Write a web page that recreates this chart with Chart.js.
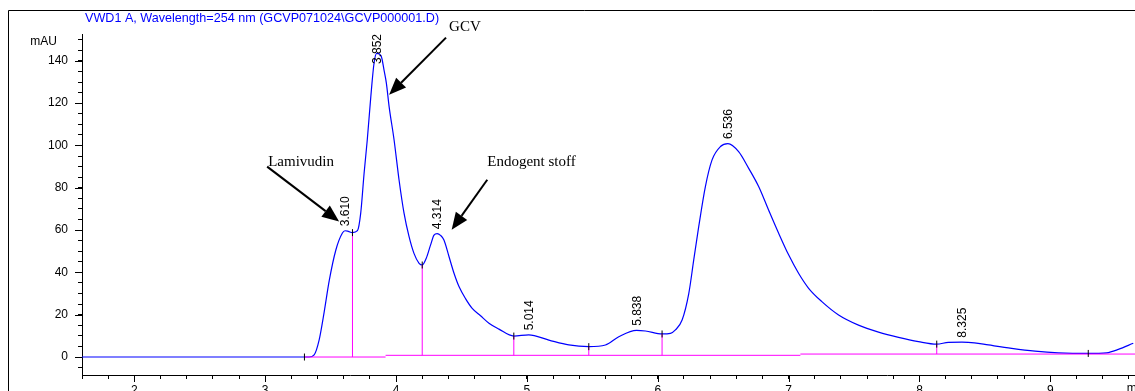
<!DOCTYPE html>
<html>
<head>
<meta charset="utf-8">
<script src="https://cdn.jsdelivr.net/npm/chart.js@4"></script>
<style>
  html, body { margin: 0; padding: 0; background: #fff; overflow: hidden; }
  #chromChart { display: block; }
</style>
</head>
<body>
<canvas id="chromChart" width="1160" height="400"></canvas>
<script>
// Signal trace (time in min, absorbance in mAU)
const times = [1.60, 3.336, 3.374, 3.412, 3.45, 3.489, 3.54, 3.59, 3.61, 3.635, 3.667, 3.705, 3.73, 3.756,
  3.78, 3.807, 3.832, 3.852, 3.885, 3.91, 3.926, 3.947, 3.985, 4.023, 4.061, 4.099, 4.137, 4.176,
  4.20, 4.231, 4.264, 4.29, 4.314, 4.34, 4.366, 4.405, 4.443, 4.481, 4.532, 4.582, 4.646, 4.71,
  4.786, 4.90, 5.014, 5.168, 5.32, 5.473, 5.60, 5.702, 5.838, 5.906, 6.033, 6.097, 6.135, 6.186,
  6.237, 6.275, 6.313, 6.364, 6.415, 6.479, 6.536, 6.618, 6.695, 6.771, 6.847, 6.924, 7.0, 7.076,
  7.153, 7.254, 7.382, 7.534, 7.687, 7.84, 7.992, 8.132, 8.221, 8.325, 8.42, 8.527, 8.705, 8.883,
  9.061, 9.29, 9.43, 9.52, 9.634];
const mAU = [0, 0, 1, 8, 21, 36, 50.6, 58.6, 59.7, 59.4, 58.8, 59.7, 68, 87,
  102.6, 123, 139, 143.5, 142.5, 135, 129.5, 118.4, 102.6, 83.7, 68, 57, 49, 44.3,
  43.5, 46.7, 53, 57.6, 58.3, 57.5, 55.3, 47.4, 39.6, 33.3, 27.5, 23, 19.5, 16,
  13.2, 9.9, 10.5, 8, 5.7, 4.9, 5.7, 9.6, 12.6, 12.3, 10.9, 11.2, 12.8, 17.5,
  30, 45.9, 61.6, 80.6, 93.2, 99.5, 100.9, 97.1, 89.2, 80.6, 69.5, 58.5, 48.3, 39.6,
  32.5, 26.2, 19.9, 15.1, 11.8, 9.3, 7.3, 6.1, 6.9, 7.0, 6.7, 5.7, 4.1, 2.8,
  2.0, 1.7, 2.0, 3.6, 6.5];

// Integration results
const peakTimes = [3.610, 3.852, 4.314, 5.014, 5.838, 6.536, 8.325];
const peakLabels = ['3.610', '3.852', '4.314', '5.014', '5.838', '6.536', '8.325'];
const peakHeights = [59.7, 143.5, 58.3, 10.5, 12.6, 100.9, 7.0];

const boundaryTimes = [3.667, 4.200, 4.900, 5.473, 6.033, 8.132];
const boundaryHeights = [58.8, 43.5, 9.9, 4.9, 10.9, 6.1];

// Drawn baseline pieces: start, end, level
const baselineStarts = [3.30, 3.92, 7.09];
const baselineEnds = [3.92, 7.09, 9.80];
const baselineLevels = [0, 0.8, 1.4];

const integrationStart = [3.30, 0];
const integrationEnd = [9.29, 1.7];

const xTickStep = 0.2;
const yTickStep = 5;

const titleText = 'VWD1 A, Wavelength=254 nm (GCVP071024\\GCVP000001.D)';

// Hand-written notes on the print, in data units
const notes = [
  { text: 'GCV', x: 4.405, y: 153.9, from: [4.382, 151.0], to: [3.947, 124.0] },
  { text: 'Lamivudin', x: 3.023, y: 90.5, from: [3.015, 90.0], to: [3.565, 64.1] },
  { text: 'Endogent stoff', x: 4.697, y: 90.5, from: [4.697, 83.8], to: [4.425, 60.2] }
];

const MAGENTA = '#ff00ff';

function baselineAt(t) {
  for (let i = 0; i < baselineStarts.length; i++) {
    if (t >= baselineStarts[i] && t < baselineEnds[i]) return baselineLevels[i];
  }
  return 0;
}

function segmentDataset(points) {
  return {
    data: points,
    borderColor: MAGENTA,
    backgroundColor: MAGENTA,
    borderWidth: 1,
    pointRadius: 0,
    order: 2
  };
}

const tracePoints = times.map((t, i) => ({ x: t, y: mAU[i] }));

const baselineSets = baselineStarts.map((s, i) => segmentDataset([
  { x: s, y: baselineLevels[i] },
  { x: baselineEnds[i], y: baselineLevels[i] }
]));

const dropSets = boundaryTimes.map((t, i) => segmentDataset([
  { x: t, y: baselineAt(t) },
  { x: t, y: boundaryHeights[i] }
]));

const markerPoints = [{ x: integrationStart[0], y: integrationStart[1] }]
  .concat(boundaryTimes.map((t, i) => ({ x: t, y: boundaryHeights[i] })))
  .concat([{ x: integrationEnd[0], y: integrationEnd[1] }]);

const labelFont = '12px "Liberation Sans", Arial, sans-serif';

const framePlugin = {
  id: 'frame',
  beforeDraw(chart) {
    const ctx = chart.ctx;
    ctx.save();
    ctx.fillStyle = '#fff';
    ctx.fillRect(0, 0, chart.width, chart.height);
    ctx.strokeStyle = '#000';
    ctx.lineWidth = 1;
    ctx.beginPath();
    ctx.moveTo(8.5, chart.height);
    ctx.lineTo(8.5, 10.5);
    ctx.lineTo(chart.width, 10.5);
    ctx.stroke();
    ctx.restore();
  }
};

function drawArrow(ctx, x1, y1, x2, y2) {
  const ang = Math.atan2(y2 - y1, x2 - x1);
  const len = 17, half = 7;
  const bx = x2 - len * Math.cos(ang), by = y2 - len * Math.sin(ang);
  ctx.beginPath();
  ctx.moveTo(x1, y1);
  ctx.lineTo(bx, by);
  ctx.stroke();
  ctx.beginPath();
  ctx.moveTo(x2, y2);
  ctx.lineTo(bx + half * Math.sin(ang), by - half * Math.cos(ang));
  ctx.lineTo(bx - half * Math.sin(ang), by + half * Math.cos(ang));
  ctx.closePath();
  ctx.fill();
}

const overlayPlugin = {
  id: 'overlay',
  afterDraw(chart) {
    const ctx = chart.ctx;
    const xs = chart.scales.x, ys = chart.scales.y;
    const area = chart.chartArea;
    ctx.save();

    // longer ticks at the labelled values
    ctx.strokeStyle = '#000';
    ctx.lineWidth = 1;
    ctx.beginPath();
    for (let v = Math.ceil(xs.min); v <= xs.max; v++) {
      const px = Math.round(xs.getPixelForValue(v)) + 0.5;
      ctx.moveTo(px, area.bottom);
      ctx.lineTo(px, area.bottom + 7);
    }
    for (let v = 0; v <= ys.max; v += 20) {
      const py = Math.round(ys.getPixelForValue(v)) + 0.5;
      ctx.moveTo(area.left - 7, py);
      ctx.lineTo(area.left, py);
    }
    ctx.stroke();

    // title and axis units
    ctx.font = '12.6px "Liberation Sans", Arial, sans-serif';
    ctx.fillStyle = '#0000ff';
    ctx.textAlign = 'left';
    ctx.textBaseline = 'alphabetic';
    ctx.fillText(titleText, 85, 22);

    ctx.font = labelFont;
    ctx.fillStyle = '#000';
    ctx.textAlign = 'right';
    ctx.textBaseline = 'middle';
    ctx.fillText('mAU', 57, ys.getPixelForValue(149));
    ctx.textAlign = 'left';
    ctx.textBaseline = 'top';
    ctx.fillText('min', xs.getPixelForValue(9.585), area.bottom + 8);

    // retention time labels above each apex
    ctx.textAlign = 'left';
    ctx.textBaseline = 'middle';
    peakTimes.forEach((t, i) => {
      const w = ctx.measureText(peakLabels[i]).width;
      const px = xs.getPixelForValue(t) + 1;
      let bottom = ys.getPixelForValue(peakHeights[i]) - 4.5;
      if (bottom - w < area.top) bottom = area.top + w;
      ctx.save();
      ctx.translate(px, bottom);
      ctx.rotate(-Math.PI / 2);
      ctx.fillText(peakLabels[i], 0, 0);
      ctx.restore();
    });

    // notes with arrows
    ctx.font = '15px "Liberation Serif", "Times New Roman", serif';
    ctx.textBaseline = 'alphabetic';
    ctx.lineWidth = 2;
    notes.forEach(n => {
      ctx.fillText(n.text, xs.getPixelForValue(n.x), ys.getPixelForValue(n.y));
      drawArrow(ctx,
        xs.getPixelForValue(n.from[0]), ys.getPixelForValue(n.from[1]),
        xs.getPixelForValue(n.to[0]), ys.getPixelForValue(n.to[1]));
    });
    ctx.restore();
  }
};

const ctx = document.getElementById('chromChart');
new Chart(ctx, {
  type: 'line',
  data: {
    datasets: [
      {
        data: markerPoints,
        showLine: false,
        pointStyle: 'line',
        rotation: 90,
        pointRadius: 3.5,
        borderColor: '#000',
        borderWidth: 1,
        order: 1
      },
      ...dropSets,
      ...baselineSets,
      {
        data: tracePoints,
        borderColor: '#0000ff',
        borderWidth: 1.2,
        pointRadius: 0,
        cubicInterpolationMode: 'monotone',
        order: 3
      }
    ]
  },
  options: {
    responsive: false,
    animation: false,
    events: [],
    layout: { padding: { top: 34, right: 3, left: 0, bottom: 0 } },
    plugins: {
      legend: { display: false },
      tooltip: { enabled: false }
    },
    scales: {
      x: {
        type: 'linear',
        min: 1.6,
        max: 9.8,
        afterFit: function(scale) { scale.height = 25; },
        border: { color: '#000', width: 1 },
        grid: { drawOnChartArea: false, tickLength: 4, color: '#000' },
        ticks: {
          stepSize: xTickStep,
          autoSkip: false,
          maxRotation: 0,
          includeBounds: false,
          padding: 4,
          color: '#000',
          font: { family: '"Liberation Sans", Arial, sans-serif', size: 12 },
          callback: function(value) {
            return Math.abs(value - Math.round(value)) < 1e-6 ? String(Math.round(value)) : '';
          }
        }
      },
      y: {
        min: -8.5,
        max: 152.7,
        afterFit: function(scale) { scale.width = 82; },
        border: { color: '#000', width: 1 },
        grid: { drawOnChartArea: false, tickLength: 4, color: '#000' },
        ticks: {
          stepSize: yTickStep,
          autoSkip: false,
          includeBounds: false,
          padding: 10,
          color: '#000',
          font: { family: '"Liberation Sans", Arial, sans-serif', size: 12 },
          callback: function(value) {
            return value >= 0 && value % 20 === 0 ? String(value) : '';
          }
        }
      }
    }
  },
  plugins: [framePlugin, overlayPlugin]
});
</script>
</body>
</html>
